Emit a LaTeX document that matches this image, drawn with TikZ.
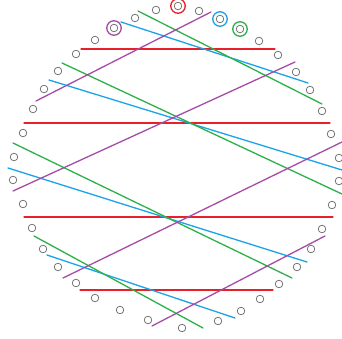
\documentclass[tikz,border=0pt]{standalone}
\usetikzlibrary{calc}
\definecolor{ringGray}{HTML}{6B6B6B}
\definecolor{chordRed}{HTML}{E8202A}
\definecolor{chordBlue}{HTML}{1AA3E8}
\definecolor{chordGreen}{HTML}{2DB04A}
\definecolor{chordPurple}{HTML}{A64CA6}

\begin{document}
\begin{tikzpicture}[x=1pt,y=-1pt,line cap=round,line join=round]
\path[fill=white,use as bounding box] (0,0) rectangle (342,339);
\tikzset{dot/.style={draw=ringGray,circle,inner sep=0pt,minimum size=7.6pt,line width=0.7pt},mark ring/.style={circle,inner sep=0pt,minimum size=14.5pt,line width=1.3pt},chord/.style={line width=1.3pt}}
% ring of small circles, clockwise from the top
\foreach \px/\py [count=\i] in {178/6,199/11,220/19,240/29,259/41,278/55,296/72,310/90,322/111,331/134,
  339/158,339/181,332/205,322/229,311/249,297/267,279/284,260/299,241/311,218/321,
  182/328,148/320,120/310,95/298,76/283,58/267,43/249,32/228,23/204,13/180,
  14/157,23/133,33/109,44/89,58/71,76/54,95/40,114/28,135/18,156/10}
  \node[dot] (n\i) at (\px,\py) {};
% highlighted circles
\node[mark ring,draw=chordRed] (r1) at (n1) {};
\node[mark ring,draw=chordBlue] (r3) at (n3) {};
\node[mark ring,draw=chordGreen] (r4) at (n4) {};
\node[mark ring,draw=chordPurple] (r38) at (n38) {};
% red chords
\draw[chord,chordRed] (81,49) -- (275,49);
\draw[chord,chordRed] (24,123) -- (330,123);
\draw[chord,chordRed] (24,217) -- (333,217);
\draw[chord,chordRed] (80,290) -- (273,290);
% blue chords
\draw[chord,chordBlue] (121,22) -- (308,83);
\draw[chord,chordBlue] (49,80) -- (342,170);
\draw[chord,chordBlue] (8,168) -- (307,262);
\draw[chord,chordBlue] (47,255) -- (235,318);
% green chords
\draw[chord,chordGreen] (138,11) -- (322,104);
\draw[chord,chordGreen] (62,63) -- (342,194);
\draw[chord,chordGreen] (13,143) -- (292,278);
\draw[chord,chordGreen] (34,236) -- (203,328);
% purple chords
\draw[chord,chordPurple] (36,101) -- (211,12);
\draw[chord,chordPurple] (13,191) -- (295,62);
\draw[chord,chordPurple] (63,278) -- (342,142);
\draw[chord,chordPurple] (152,326) -- (325,236);
\end{tikzpicture}
\end{document}
